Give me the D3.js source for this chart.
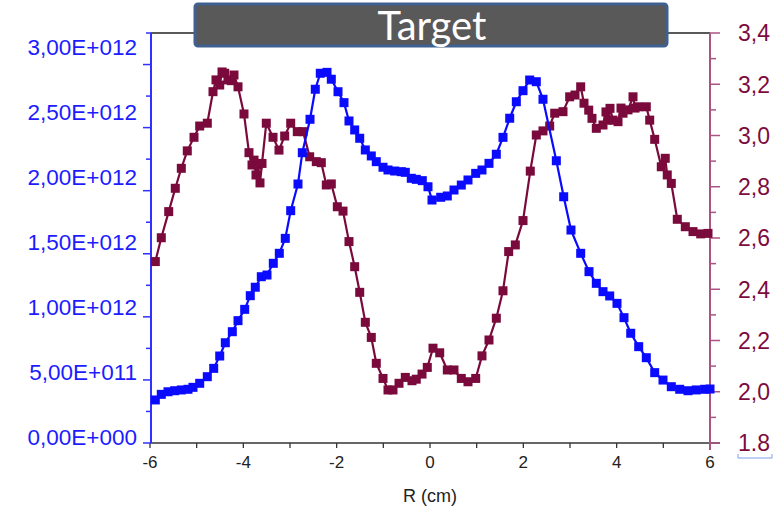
<!DOCTYPE html>
<html><head><meta charset="utf-8">
<script src="https://cdn.jsdelivr.net/npm/d3@7"></script>
<style>body{margin:0;background:#fff}svg{display:block}</style></head>
<body>
<svg id="c" width="782" height="512"></svg>
<script>
// ---- DATA ----
const blueR = [-5.886,-5.758,-5.614,-5.471,-5.329,-5.186,-5.079,-4.935,-4.772,-4.635,-4.506,-4.386,-4.236,-4.114,-3.971,-3.851,-3.744,-3.615,-3.493,-3.358,-3.229,-3.101,-2.985,-2.829,-2.736,-2.571,-2.458,-2.351,-2.207,-2.115,-1.971,-1.843,-1.736,-1.614,-1.506,-1.386,-1.258,-1.151,-1.007,-0.900,-0.756,-0.615,-0.529,-0.401,-0.294,-0.165,-0.043,0.043,0.229,0.371,0.514,0.671,0.814,0.979,1.114,1.264,1.421,1.564,1.708,1.850,1.993,2.136,2.278,2.421,2.707,2.865,3.021,3.229,3.407,3.564,3.707,3.851,4.007,4.157,4.301,4.472,4.635,4.815,4.993,5.171,5.351,5.529,5.706,5.886,6.0];
const blueV = [0.285,0.328,0.348,0.356,0.362,0.367,0.382,0.413,0.464,0.528,0.623,0.725,0.810,0.895,0.982,1.087,1.152,1.233,1.246,1.336,1.413,1.528,1.741,1.946,2.187,2.444,2.675,2.798,2.805,2.752,2.656,2.572,2.431,2.362,2.298,2.208,2.162,2.118,2.075,2.054,2.046,2.041,2.036,1.990,1.982,1.972,1.925,1.823,1.844,1.854,1.900,1.938,1.977,2.028,2.054,2.105,2.175,2.305,2.452,2.579,2.664,2.746,2.733,2.598,2.125,1.848,1.592,1.413,1.272,1.182,1.118,1.085,1.028,0.918,0.798,0.695,0.610,0.495,0.438,0.387,0.367,0.356,0.362,0.367,0.369];
const redR = [-5.886,-5.758,-5.599,-5.458,-5.329,-5.201,-5.057,-4.935,-4.772,-4.650,-4.586,-4.506,-4.457,-4.399,-4.329,-4.258,-4.200,-4.114,-3.986,-3.879,-3.814,-3.771,-3.729,-3.686,-3.643,-3.600,-3.508,-3.364,-3.236,-3.114,-2.985,-2.844,-2.721,-2.578,-2.436,-2.329,-2.222,-2.115,-1.986,-1.864,-1.736,-1.614,-1.506,-1.386,-1.258,-1.151,-1.007,-0.900,-0.793,-0.664,-0.529,-0.386,-0.294,-0.171,-0.058,0.064,0.208,0.371,0.514,0.671,0.814,0.979,1.114,1.264,1.421,1.564,1.686,1.828,1.993,2.149,2.278,2.421,2.565,2.672,2.850,2.993,3.107,3.229,3.300,3.401,3.471,3.564,3.707,3.771,3.814,3.857,3.921,4.029,4.093,4.136,4.243,4.350,4.393,4.457,4.635,4.708,4.815,4.956,5.041,5.084,5.171,5.299,5.471,5.636,5.801,5.957];
const redV = [2.508,2.601,2.703,2.794,2.872,2.940,2.993,3.037,3.048,3.171,3.217,3.197,3.248,3.243,3.217,3.214,3.236,3.190,3.084,2.933,2.885,2.904,2.846,2.885,2.815,2.891,3.048,2.993,2.943,2.998,3.048,3.015,3.015,2.917,2.898,2.894,2.807,2.811,2.722,2.705,2.586,2.488,2.388,2.271,2.212,2.111,2.052,2.007,2.007,2.033,2.056,2.043,2.049,2.069,2.095,2.170,2.152,2.085,2.085,2.052,2.039,2.052,2.140,2.202,2.287,2.394,2.547,2.573,2.668,2.861,3.002,3.018,3.037,3.087,3.093,3.151,3.158,3.190,3.126,3.099,3.067,3.028,3.041,3.092,3.060,3.106,3.060,3.054,3.107,3.087,3.100,3.151,3.107,3.112,3.112,3.060,2.985,2.878,2.911,2.846,2.813,2.673,2.644,2.625,2.616,2.618];
const xTickValues = [-6,-4,-2,0,2,4,6];
const xMinorTicks = [-6,-5,-4,-3,-2,-1,0,1,2,3,4,5,6];
const leftTickValues = [0,0.5,1,1.5,2,2.5,3];
const leftTickLabels = ["0,00E+000","5,00E+011","1,00E+012","1,50E+012","2,00E+012","2,50E+012","3,00E+012"];
const rightTickValues = [1.8,2.0,2.2,2.4,2.6,2.8,3.0,3.2,3.4];
const rightTickLabels = ["1.8","2,0","2,2","2,4","2,6","2,8","3,0","3,2","3,4"];
const titleText = "Target";
const xTitle = "R (cm)";

// ---- DRAW ----
const svg = d3.select("#c");
const x = d3.scaleLinear().domain([-6,6]).range([150,710]);
const yL = d3.scaleLinear().domain([0,3]).range([437,47]);
const yR = d3.scaleLinear().domain([1.8,3.4]).range([443,33]);
const leftTickPos = d3.scaleLinear().domain([0,13]).range([443,33]);

const BLUE = "#0a0aff", MAROON = "#7a0a3c";

// top frame line
svg.append("line").attr("x1",151).attr("x2",710).attr("y1",33).attr("y2",33)
  .attr("stroke","#222").attr("stroke-width",1.3);

// bottom axis
const gx = svg.append("g").attr("transform","translate(0,443)");
gx.append("line").attr("x1",150).attr("x2",720).attr("stroke","#333").attr("stroke-width",1.6);
gx.selectAll("line.t").data(xMinorTicks).join("line").attr("class","t")
  .attr("x1",d=>x(d)).attr("x2",d=>x(d)).attr("y1",0).attr("y2",5)
  .attr("stroke","#333").attr("stroke-width",1.3);
gx.selectAll("text").data(xTickValues).join("text")
  .attr("x",d=>x(d)).attr("y",25).attr("text-anchor","middle")
  .attr("font-family","Liberation Sans, Arial, sans-serif").attr("font-size",17).attr("fill","#222")
  .text(d=>d);
svg.append("text").attr("x",x(0)).attr("y",502).attr("text-anchor","middle")
  .attr("font-family","Liberation Sans, Arial, sans-serif").attr("font-size",18).attr("fill","#222")
  .text(xTitle);

// left axis
const gl = svg.append("g");
gl.append("line").attr("x1",151).attr("x2",151).attr("y1",33).attr("y2",443)
  .attr("stroke","#3030ff").attr("stroke-width",2);
gl.selectAll("line.t").data(d3.range(14)).join("line").attr("class","t")
  .attr("x1",d=> (d%2===0)?143:146).attr("x2",151)
  .attr("y1",d=>leftTickPos(d)).attr("y2",d=>leftTickPos(d))
  .attr("stroke","#3030ff").attr("stroke-width",1.5);
gl.selectAll("text").data(leftTickValues).join("text")
  .attr("x",137).attr("y",d=>yL(d)).attr("dy","0.36em").attr("text-anchor","end")
  .attr("font-family","Liberation Sans, Arial, sans-serif").attr("font-size",22.5).attr("fill","#1c1cff")
  .text((d,i)=>leftTickLabels[i]);

// right axis
const gr = svg.append("g");
gr.append("line").attr("x1",710).attr("x2",710).attr("y1",33).attr("y2",450)
  .attr("stroke","#ad5384").attr("stroke-width",2);
const rMinor = d3.range(17).map(i=>1.8+i*0.1);
gr.selectAll("line.t").data(rMinor).join("line").attr("class","t")
  .attr("x1",710).attr("x2",(d,i)=> i%2===0?720:716)
  .attr("y1",d=>yR(d)).attr("y2",d=>yR(d))
  .attr("stroke","#ad5384").attr("stroke-width",1.5);
gr.selectAll("text").data(rightTickValues).join("text")
  .attr("x",738).attr("y",d=>yR(d)).attr("dy","0.36em")
  .attr("font-family","Liberation Sans, Arial, sans-serif").attr("font-size",23).attr("fill","#7c0c40")
  .text((d,i)=>rightTickLabels[i]);
// selection bracket under "1.8"
svg.append("path").attr("d",`M738,${yR(1.8)+11} L738,${yR(1.8)+15} L772,${yR(1.8)+15} L772,${yR(1.8)+11}`)
  .attr("fill","none").attr("stroke","#7f9ff0").attr("stroke-width",1);

// series
function drawSeries(xs, vs, ys, color){
  const pts = xs.map((r,i)=>[x(r), ys(vs[i])]);
  svg.append("path").attr("d", d3.line()(pts)).attr("fill","none")
    .attr("stroke",color).attr("stroke-width",2.2).attr("stroke-linejoin","round");
  svg.append("g").selectAll("rect").data(pts).join("rect")
    .attr("x",d=>d[0]-4.5).attr("y",d=>d[1]-4.5).attr("width",9).attr("height",9).attr("fill",color);
}
drawSeries(redR, redV, yR, MAROON);
drawSeries(blueR, blueV, yL, BLUE);

// title box
svg.append("rect").attr("x",195).attr("y",4).attr("width",472).attr("height",42).attr("rx",3)
  .attr("fill","#595959").attr("stroke","#3f6190").attr("stroke-width",3);
svg.append("text").attr("x",432).attr("y",40).attr("text-anchor","middle")
  .attr("font-family","Lato, 'Open Sans', sans-serif").attr("font-size",40).attr("fill","#fff")
  .text(titleText);
</script>
</body></html>
